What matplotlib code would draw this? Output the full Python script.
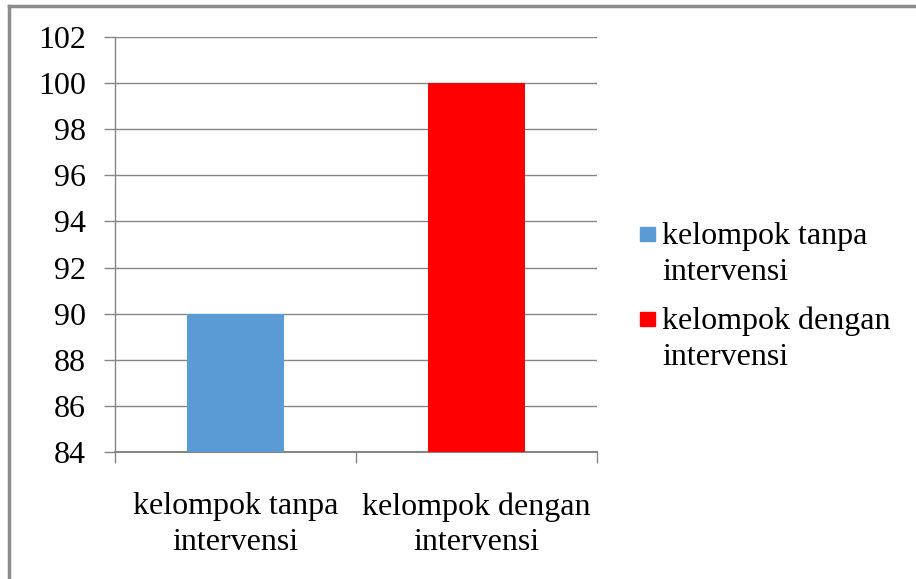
import matplotlib
matplotlib.use("Agg")
import matplotlib.pyplot as plt
from matplotlib.lines import Line2D
from matplotlib.patches import Rectangle

categories = ["kelompok tanpa\nintervensi", "kelompok dengan\nintervensi"]
values = [90, 100]
colors = ["#5B9BD5", "#FF0000"]
yticks = [84, 86, 88, 90, 92, 94, 96, 98, 100, 102]

plt.rcParams['font.family'] = ['Liberation Serif', 'DejaVu Serif']
FS = 23
W, H = 916, 579

fig = plt.figure(figsize=(W/100, H/100), dpi=100)
ax = fig.add_axes([115/W, 1-452/H, (597-115)/W, (452-37)/H])

x = list(range(len(categories)))
bars = ax.bar(x, values, width=0.40, color=colors, zorder=3)
ax.set_ylim(84, 102)
ax.set_xlim(-0.5, len(categories)-0.5)
ax.set_yticks(yticks)
ax.set_yticklabels([str(v) for v in yticks], fontsize=FS)
ax.set_xticks(x)
ax.set_xticklabels(categories, fontsize=FS, linespacing=1.3)
ax.set_xticks([i - 0.5 for i in range(len(categories)+1)], minor=True)
ax.tick_params(axis='x', which='major', length=0, pad=29)
ax.tick_params(axis='x', which='minor', length=8, color='#868686', width=1)
ax.tick_params(axis='y', length=8, color='#868686', width=1, pad=13)
ax.grid(axis='y', color='#868686', linewidth=1, zorder=0)
for s in ['top', 'right']:
    ax.spines[s].set_visible(False)
for s in ['left', 'bottom']:
    ax.spines[s].set_color('#868686')
    ax.spines[s].set_linewidth(1)
ax.spines['bottom'].set_linewidth(1.5)

# legend (manual, handle aligned with first text line as in the reference)
leg_baselines = [245, 330]
line_gap = 35
for lab, col, yb in zip(categories, colors, leg_baselines):
    fig.add_artist(Rectangle((640/W, 1-(yb-4)/H), 15/W, 14/H, color=col,
                             transform=fig.transFigure))
    fig.text(662/W, 1-(yb+line_gap)/H, lab, fontsize=FS, va='baseline', ha='left',
             linespacing=1.3)

fig.add_artist(Line2D([9/W, 9/W], [0, 1-6/H], color='#8c8c8c', linewidth=2.5, transform=fig.transFigure))
fig.add_artist(Line2D([9/W, 1], [1-6/H, 1-6/H], color='#8c8c8c', linewidth=2.5, transform=fig.transFigure))

fig.savefig("out.png", dpi=100)
